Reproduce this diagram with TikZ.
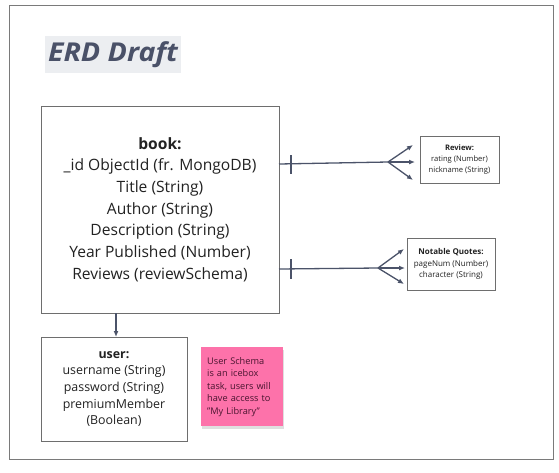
\documentclass[tikz,border=0pt]{standalone}
\usepackage{fontspec}
\setmainfont{Open Sans}
\usetikzlibrary{arrows.meta,shadows,calc}
\definecolor{conncol}{HTML}{4B5369}
\definecolor{boxcol}{HTML}{6E6E6E}
\definecolor{framecol}{HTML}{7A7A7A}
\definecolor{titlebg}{HTML}{ECEEF1}
\definecolor{titlefg}{HTML}{4A5168}
\definecolor{stickycol}{HTML}{FD72AA}
\definecolor{stickytext}{HTML}{4A1530}
\definecolor{textcol}{HTML}{222222}
\tikzset{
  entity/.style={draw=boxcol, line width=0.9pt, fill=white, align=center, text=textcol, inner sep=0pt},
  conn/.style={draw=conncol, line width=1.3pt},
  tip/.style={conn, -{Latex[length=6pt,width=5pt]}},
}
\begin{document}
\begin{tikzpicture}[x=1pt,y=-1pt]
\useasboundingbox (0,0) rectangle (559,472);
\fill[white] (0,0) rectangle (559,472);
\draw[framecol, line width=1pt] (9.5,5) rectangle (553,459);

\node[fill=titlebg, text=titlefg, inner sep=0pt, minimum width=136pt, minimum height=37pt,
  font=\fontsize{26}{30}\selectfont\bfseries\itshape] (title) at (113,54.5) {\scalebox{1.1}[1]{ERD Draft}};

\node[entity, minimum width=238pt, minimum height=207pt,
  font=\fontsize{15.6}{21.7}\selectfont] (book) at (160,209.5)
  {\textbf{book:}\\\_id ObjectId (fr. MongoDB)\\Title (String)\\Author (String)\\Description (String)\\Year Published (Number)\\Reviews (reviewSchema)};

\node[entity, minimum width=146pt, minimum height=104pt,
  font=\fontsize{12.4}{16.7}\selectfont] (user) at (114,389)
  {\textbf{user:}\\username (String)\\password (String)\\premiumMember\\(Boolean)};

\node[fill=stickycol, text=stickytext, anchor=north west, inner xsep=6pt, inner ysep=0pt,
  text width=70pt, minimum height=79pt, minimum width=80pt, align=left,
  font=\fontsize{9.2}{12.5}\selectfont,
  drop shadow={opacity=0.25, shadow xshift=1pt, shadow yshift=-3pt}] (sticky) at (201,347)
  {User Schema\\is an icebox\\task, users will\\have access to\\"My Library"};

\node[entity, minimum width=79pt, minimum height=47pt,
  font=\fontsize{7.6}{11}\selectfont] (review) at (459.5,159.5)
  {\textbf{Review:}\\rating (Number)\\nickname (String)};

\node[entity, minimum width=88pt, minimum height=52pt,
  font=\fontsize{8}{11.5}\selectfont] (quotes) at (451,264)
  {\textbf{Notable Quotes:}\\pageNum (Number)\\character (String)};

% connector book -> review
\coordinate (a1) at (279,164);
\coordinate (f1) at (388,162);
\coordinate (t1a) at (413,145);
\coordinate (t1b) at (415,162);
\coordinate (t1c) at (413,180);
\coordinate (k1a) at (291,155);
\coordinate (k1b) at (291,174);
\draw[conn] (a1) -- (f1);
\draw[conn] (k1a) -- (k1b);
\draw[tip] (f1) -- (t1a);
\draw[tip] (f1) -- (t1b);
\draw[tip] (f1) -- (t1c);

% connector book -> quotes
\coordinate (a2) at (279,269);
\coordinate (f2) at (378,268);
\coordinate (t2a) at (404,249);
\coordinate (t2b) at (405,268);
\coordinate (t2c) at (404,284);
\coordinate (k2a) at (291,259);
\coordinate (k2b) at (291,279);
\draw[conn] (a2) -- (f2);
\draw[conn] (k2a) -- (k2b);
\draw[tip] (f2) -- (t2a);
\draw[tip] (f2) -- (t2b);
\draw[tip] (f2) -- (t2c);

% book -> user
\coordinate (b0) at (116,313);
\coordinate (b1) at (116,337);
\draw[tip] (b0) -- (b1);
\end{tikzpicture}
\end{document}
